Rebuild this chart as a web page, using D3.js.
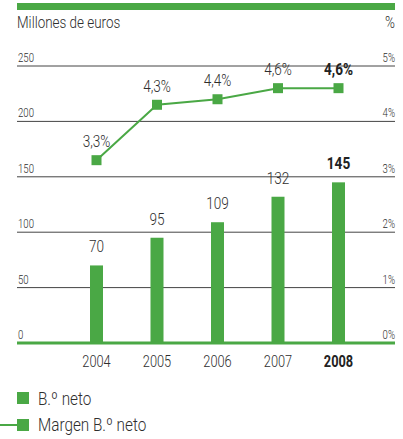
<!DOCTYPE html>
<html><head><meta charset="utf-8">
<script src="https://cdn.jsdelivr.net/npm/d3@7"></script>
<style>
body{margin:0;background:#fff;}
svg text{font-family:"Roboto",sans-serif;font-weight:300;fill:#2e2e2e;}
svg text.b{font-weight:700;fill:#222;}
</style></head><body>
<svg id="c" width="403" height="439"></svg>
<script>
const years = ["2004","2005","2006","2007","2008"];
const beneficio = [70, 95, 109, 132, 145];
const margen = [3.3, 4.3, 4.4, 4.6, 4.6];
const margenLabels = ["3,3%","4,3%","4,4%","4,6%","4,6%"];
const leftTicks = [0, 50, 100, 150, 200, 250];
const rightTicks = [0, 1, 2, 3, 4, 5];
const legendItems = ["B.º neto", "Margen B.º neto"];

const green = "#4aa845";
const svg = d3.select("#c");
const L = 17, R = 395, y0 = 343, yTop = 66;

function txt(parent, x, y, s, size, anchor, bold, sx) {
  const t = parent.append("text")
    .attr("transform", `translate(${x},${y}) scale(${sx || 0.8},1)`)
    .attr("font-size", size)
    .attr("text-anchor", anchor || "start")
    .text(s);
  if (bold) t.attr("class", "b");
  return t;
}

const x = d3.scalePoint().domain(years).range([96.5, 338.5]);
const yL = d3.scaleLinear().domain([0, 250]).range([y0, yTop]);
const yR = d3.scaleLinear().domain([0, 5]).range([y0, yTop]);

// top band
svg.append("rect").attr("x", L).attr("y", 3).attr("width", R - L).attr("height", 7).attr("fill", green);
txt(svg, L, 28, "Millones de euros", 16, "start", false, 0.84);
txt(svg, R, 28, "%", 16, "end", false, 0.84);

// gridlines
leftTicks.filter(d => d > 0).forEach(d => {
  svg.append("line").attr("x1", L).attr("x2", R).attr("y1", yL(d)).attr("y2", yL(d))
    .attr("stroke", "#444").attr("stroke-width", 1);
});
leftTicks.forEach(d => txt(svg, L + 1, yL(d) - 4, String(d), 12));
rightTicks.forEach(d => txt(svg, R, yR(d) - 4, d + "%", 12, "end"));

// bars
const bw = 13;
svg.selectAll(".bar").data(beneficio).join("rect")
  .attr("x", (d, i) => x(years[i]) - bw / 2).attr("width", bw)
  .attr("y", d => yL(d)).attr("height", d => y0 - yL(d)).attr("fill", green);
beneficio.forEach((d, i) => txt(svg, x(years[i]), yL(d) - 13, String(d), 17, "middle", i === 4));

// baseline
svg.append("line").attr("x1", L).attr("x2", R).attr("y1", y0).attr("y2", y0)
  .attr("stroke", green).attr("stroke-width", 3);

// x labels
years.forEach((d, i) => txt(svg, x(d), 367, d, 16, "middle", i === 4));

// line
const line = d3.line().x((d, i) => x(years[i])).y(d => yR(d));
svg.append("path").datum(margen).attr("d", line).attr("fill", "none").attr("stroke", green).attr("stroke-width", 2);
svg.selectAll(".mk").data(margen).join("rect")
  .attr("x", (d, i) => x(years[i]) - 5).attr("y", d => yR(d) - 5).attr("width", 10).attr("height", 10).attr("fill", green);
margen.forEach((d, i) => txt(svg, x(years[i]), yR(d) - 13, margenLabels[i], 17, "middle", i === 4));

// legend
svg.append("rect").attr("x", L).attr("y", 392).attr("width", 12).attr("height", 12).attr("fill", green);
txt(svg, 38, 405, legendItems[0], 18, "start", false, 0.85);
svg.append("line").attr("x1", 0).attr("x2", L).attr("y1", 425).attr("y2", 425).attr("stroke", green).attr("stroke-width", 2);
svg.append("rect").attr("x", L).attr("y", 419).attr("width", 12).attr("height", 12).attr("fill", green);
txt(svg, 38, 431, legendItems[1], 18, "start", false, 0.85);
</script>
</body></html>
